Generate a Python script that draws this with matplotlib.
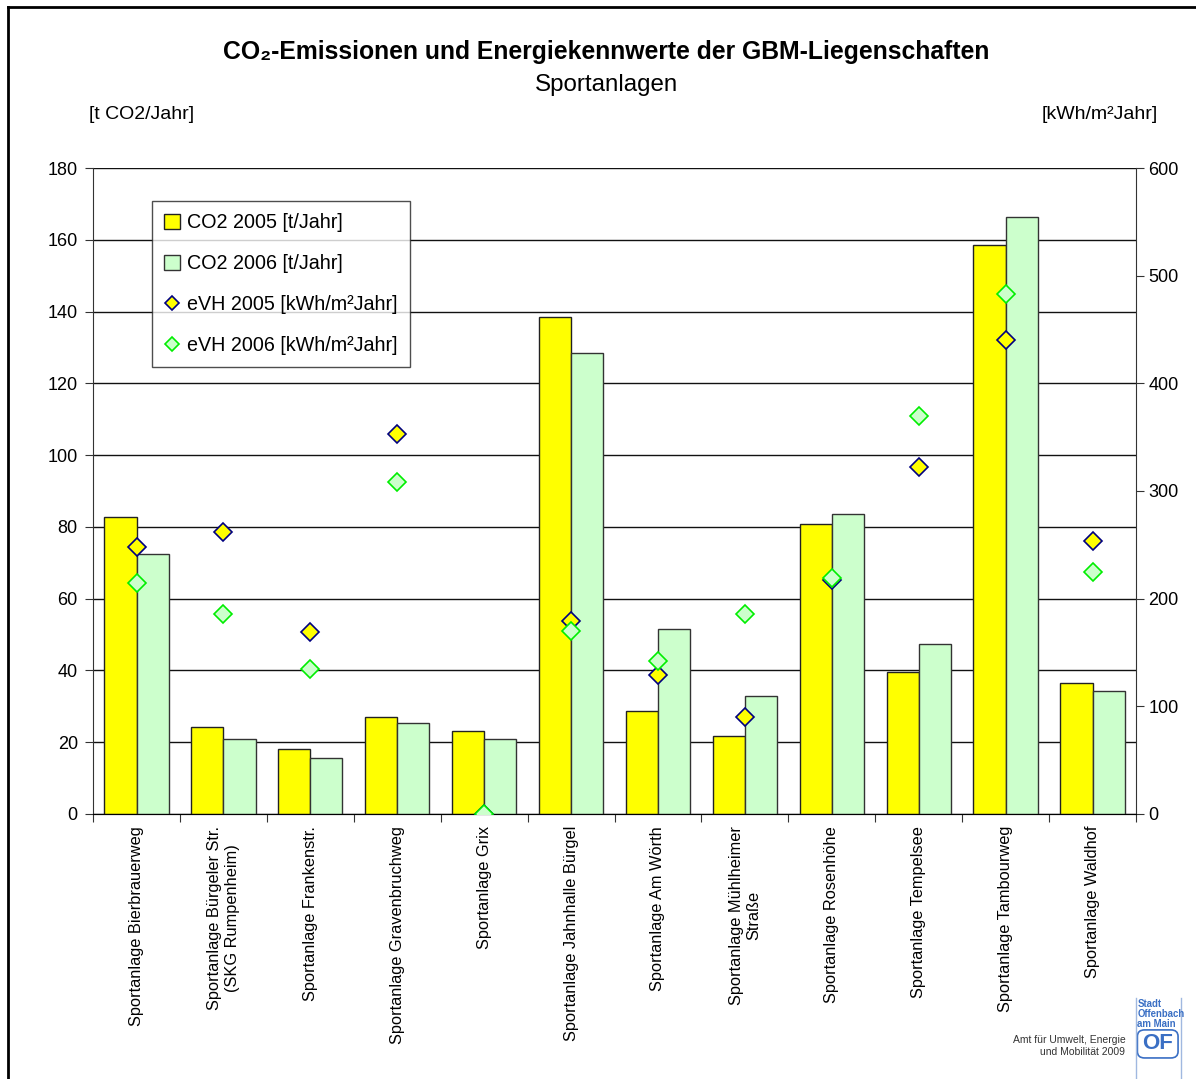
import numpy as np
import matplotlib
matplotlib.use('Agg')
import matplotlib.pyplot as plt
from matplotlib.lines import Line2D
from matplotlib.patches import FancyBboxPatch

plt.rcParams['font.family'] = ['Liberation Sans', 'DejaVu Sans']

sites = ['Sportanlage Bierbrauerweg', 'Sportanlage Bürgeler Str.\n(SKG Rumpenheim)',
         'Sportanlage Frankenstr.', 'Sportanlage Gravenbruchweg', 'Sportanlage Grix',
         'Sportanlage Jahnhalle Bürgel', 'Sportanlage Am Wörth',
         'Sportanlage Mühlheimer\nStraße', 'Sportanlage Rosenhöhe',
         'Sportanlage Tempelsee', 'Sportanlage Tambourweg', 'Sportanlage Waldhof']
co2_2005 = [82.8, 24.2, 18.1, 27.0, 23.1, 138.5, 28.7, 21.7, 80.8, 39.6, 158.5, 36.5]
co2_2006 = [72.4, 20.9, 15.6, 25.4, 20.9, 128.4, 51.5, 32.9, 83.6, 47.4, 166.3, 34.3]
evh_2005 = [248, 262, 169, 353, 0, 179, 129, 90, 217, 322, 440, 254]
evh_2006 = [215, 186, 135, 308, 0, 170, 142, 186, 219, 370, 483, 225]

fig = plt.figure(figsize=(11.96, 10.79), dpi=100)
ax = fig.add_axes([0.0778, 0.2456, 0.872, 0.5987])
ax2 = ax.twinx()

x = np.arange(len(sites))
w = 0.37
ax.bar(x - w / 2, co2_2005, w, color='#ffff00', edgecolor='#222222', linewidth=1,
       label='CO2 2005 [t/Jahr]', zorder=3)
ax.bar(x + w / 2, co2_2006, w, color='#ccffcc', edgecolor='#333333', linewidth=1,
       label='CO2 2006 [t/Jahr]', zorder=3)

ax2.plot(x, evh_2005, 'D', ms=9, mfc='#ffff00', mec='#000080', mew=1.2,
         label='eVH 2005 [kWh/m²Jahr]', zorder=4)
ax2.plot(x, evh_2006, 'D', ms=9, mfc='#ccffcc', mec='#00ee00', mew=1.2,
         label='eVH 2006 [kWh/m²Jahr]', zorder=4)

ax.set_xlim(-0.5, len(sites) - 0.5)
ax.set_ylim(0, 180)
ax2.set_ylim(0, 600)
ax.set_yticks(np.arange(0, 181, 20))
ax2.set_yticks(np.arange(0, 601, 100))
ax.yaxis.grid(True, color='#111111', linewidth=1, zorder=0)
ax.set_axisbelow(True)

for a in (ax, ax2):
    a.spines['top'].set_visible(False)
    a.spines['right'].set_visible(False)
ax2.spines['left'].set_visible(False)
ax.spines['left'].set_color('#333333')
ax.spines['bottom'].set_color('#333333')
ax2.spines['right'].set_visible(True)
ax2.spines['right'].set_color('#333333')

ax.tick_params(axis='y', labelsize=13, length=6, pad=5, color='#333333')
ax2.tick_params(axis='y', labelsize=13, length=6, pad=3, color='#333333')

# category boundaries carry the ticks, labels sit at the centres
ax.set_xticks(np.arange(-0.5, len(sites)), minor=False)
ax.set_xticklabels([])
ax.tick_params(axis='x', length=6, color='#333333')
for i, name in enumerate(sites):
    ax.text(i, -3.3, name, rotation=90, ha='center', va='top', fontsize=11.8,
            multialignment='center', transform=ax.transData)

h1, l1 = ax.get_legend_handles_labels()
h2, l2 = ax2.get_legend_handles_labels()
leg = ax2.legend(h1 + h2, l1 + l2, loc='upper left', bbox_to_anchor=(0.047, 0.964),
                 fontsize=14.2, frameon=True, fancybox=False, edgecolor='#222222',
                 handlelength=0.8, handleheight=0.8, handletextpad=0.4,
                 labelspacing=1.12, borderpad=0.6, markerscale=0.8)
leg.get_frame().set_linewidth(1)

fig.text(0.507, 0.952, 'CO₂-Emissionen und Energiekennwerte der GBM-Liegenschaften',
         ha='center', va='center', fontsize=17.8, fontweight='bold')
fig.text(0.507, 0.921, 'Sportanlagen', ha='center', va='center', fontsize=17.4)
fig.text(0.074, 0.894, '[t CO2/Jahr]', ha='left', va='center', fontsize=14)
fig.text(0.968, 0.894, '[kWh/m²Jahr]', ha='right', va='center', fontsize=14)

# outer frame
fig.add_artist(Line2D([0.0067, 0.0067], [0, 0.9935], color='black', lw=2))
fig.add_artist(Line2D([0.0067, 1.0], [0.9935, 0.9935], color='black', lw=2))

# footer with city logo
fig.text(0.941, 0.0305, 'Amt für Umwelt, Energie\nund Mobilität 2009', ha='right',
         va='center', fontsize=7.5, color='#333333', linespacing=1.3)
fig.add_artist(Line2D([0.9495, 0.9495], [0.0, 0.075], color='#a0b8e0', lw=1))
fig.add_artist(Line2D([0.9875, 0.9875], [0.0, 0.075], color='#a0b8e0', lw=1))
fig.text(0.951, 0.0745, 'Stadt\nOffenbach\nam Main', ha='left', va='top', fontsize=6.9,
         fontweight='bold', color='#3a6fc4', linespacing=1.0)
fig.add_artist(FancyBboxPatch((0.953, 0.0215), 0.030, 0.022,
                              boxstyle='round,pad=0.002,rounding_size=0.006',
                              transform=fig.transFigure, facecolor='white',
                              edgecolor='#3a6fc4', lw=1.2))
fig.text(0.968, 0.0325, 'OF', ha='center', va='center', fontsize=16,
         fontweight='bold', color='#3a6fc4')

fig.savefig('out.png', dpi=100)
